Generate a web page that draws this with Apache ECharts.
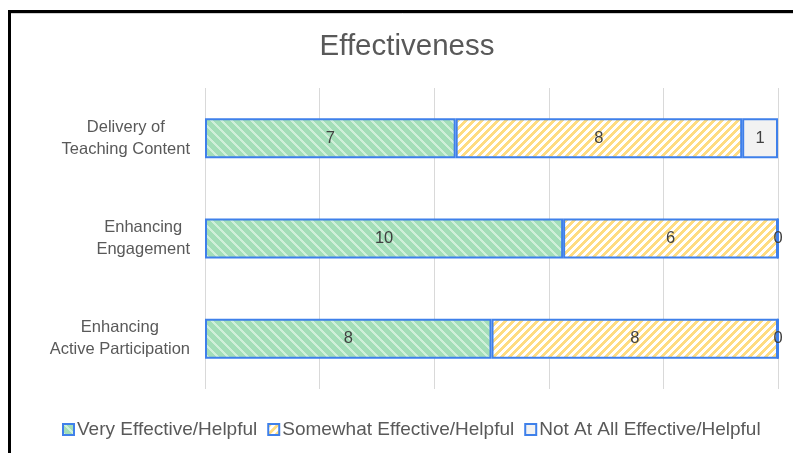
<!DOCTYPE html>
<html>
<head>
<meta charset="utf-8">
<script src="https://cdn.jsdelivr.net/npm/echarts@6/dist/echarts.min.js"></script>
<style>
html,body{margin:0;padding:0;background:#fff;}
#chart{width:793px;height:453px;}
</style>
</head>
<body>
<div id="chart"></div>
<script>
// ---- data ----
const categories = ['Delivery of\nTeaching Content', 'Enhancing\nEngagement', 'Enhancing\nActive Participation'];
const seriesNames = ['Very Effective/Helpful', 'Somewhat Effective/Helpful', 'Not At All Effective/Helpful'];
const veryEffective = [7, 10, 8];
const somewhatEffective = [8, 6, 8];
const notAtAll = [1, 0, 0];
const axisMax = 16;

// ---- patterns (style only) ----
function makePattern(size, bg, fg, w, dir) {
  const c = document.createElement('canvas');
  c.width = size; c.height = size;
  const ctx = c.getContext('2d');
  ctx.fillStyle = bg; ctx.fillRect(0, 0, size, size);
  ctx.fillStyle = fg;
  for (let y = 0; y < size; y++) {
    for (let x = 0; x < size; x++) {
      const k = dir === 'down' ? ((x - y) % size + size) % size : (x + y) % size;
      if (k < w) ctx.fillRect(x, y, 1, 1);
    }
  }
  return { image: c, repeat: 'repeat' };
}
const greenPat = makePattern(10, '#A3DEB8', '#CFEFD9', 3, 'down');
const yellowPat = makePattern(8, '#FFFFFF', '#FFDC80', 4, 'up');
const blueBorder = '#3F80EA';
const font = '"Liberation Sans", Arial, sans-serif';

const chart = echarts.init(document.getElementById('chart'), null, { renderer: 'canvas' });

function mkSeries(name, data, color) {
  return {
    name: name,
    type: 'bar',
    stack: 'total',
    data: data,
    barWidth: 40,
    itemStyle: { color: color, borderColor: blueBorder, borderWidth: 2 },
    label: { show: true, position: 'inside', color: '#404040', fontSize: 16.5, fontFamily: font },
    emphasis: { disabled: true }
  };
}

chart.setOption({
  animation: false,
  backgroundColor: '#ffffff',
  textStyle: { fontFamily: font },
  title: {
    text: 'Effectiveness',
    left: 402, top: 27, textAlign: 'center',
    textStyle: { fontSize: 29.5, fontWeight: 'normal', color: '#595959', fontFamily: font }
  },
  legend: {
    bottom: 9, left: 57,
    icon: 'rect', itemWidth: 11, itemHeight: 11, itemGap: 10,
    textStyle: { fontSize: 19, color: '#595959', fontFamily: font, padding: [0, 0, 0, -2] },
    data: seriesNames
  },
  grid: { left: 205, right: 15, top: 88, height: 301, containLabel: false },
  xAxis: {
    type: 'value', min: 0, max: axisMax, interval: axisMax / 5,
    axisLabel: { show: false }, axisLine: { show: false }, axisTick: { show: false },
    splitLine: { show: true, lineStyle: { color: '#D9D9D9', width: 1 } }
  },
  yAxis: {
    type: 'category', inverse: true, data: categories,
    axisLine: { show: false }, axisTick: { show: false },
    axisLabel: {
      align: 'right', margin: 15,
      formatter: function (v) { return v.split('\n').map(s => '{c|' + s + '}').join('\n'); },
      rich: { c: { align: 'center', fontSize: 16.5, color: '#595959', lineHeight: 22, fontFamily: font } }
    }
  },
  graphic: [
    { type: 'polyline', shape: { points: [[9.5, 460], [9.5, 11.5], [800, 11.5]] }, style: { stroke: '#000', lineWidth: 3, fill: null }, silent: true },
    { type: 'line', shape: { x1: 11, y1: 13.5, x2: 800, y2: 13.5 }, style: { stroke: '#D0D0D0', lineWidth: 1 }, silent: true }
  ],
  series: [
    mkSeries(seriesNames[0], veryEffective, greenPat),
    mkSeries(seriesNames[1], somewhatEffective, yellowPat),
    mkSeries(seriesNames[2], notAtAll, '#F2F2F2')
  ]
});
</script>
</body>
</html>
